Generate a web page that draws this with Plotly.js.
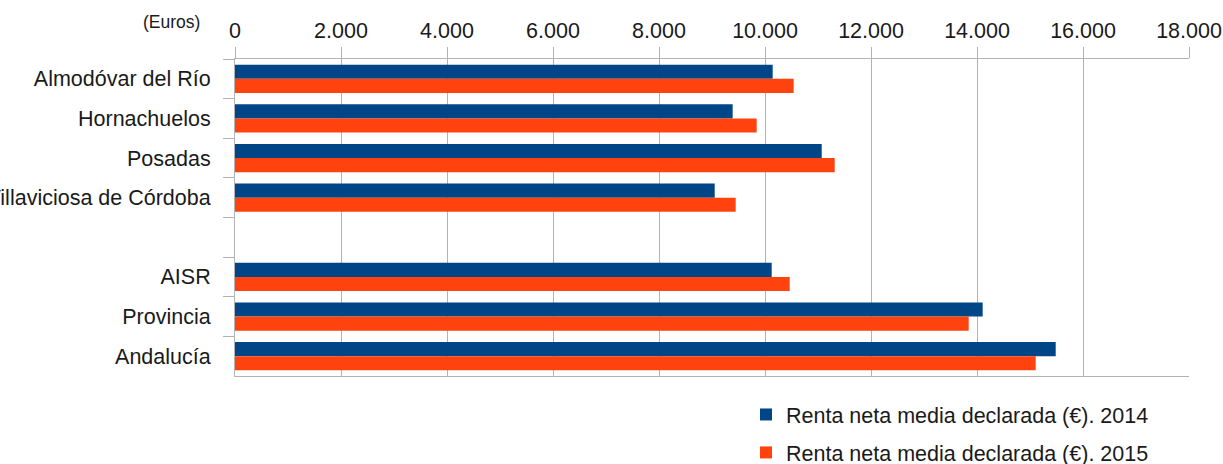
<!DOCTYPE html>
<html>
<head>
<meta charset="utf-8">
<script src="https://cdn.plot.ly/plotly-3.0.1.min.js"></script>
<style>html,body{margin:0;padding:0;background:#fff;}#chart{width:1223px;height:464px;}</style>
</head>
<body>
<div id="chart"></div>
<script>
const categories = ["Almodóvar del Río", "Hornachuelos", "Posadas", "Villaviciosa de Córdoba", " ", "AISR", "Provincia", "Andalucía"];
const renta2014 = [10145, 9390, 11070, 9051, null, 10126, 14107, 15485];
const renta2015 = [10541, 9843, 11315, 9447, null, 10466, 13843, 15107];
const seriesNames = ["Renta neta media declarada (€). 2014", "Renta neta media declarada (€). 2015"];
const xTicks = [0, 2000, 4000, 6000, 8000, 10000, 12000, 14000, 16000, 18000];

const font = "Liberation Sans, Arial, sans-serif";
const fs = 21.5;
const traces = [
  {type: "bar", orientation: "h", y: categories, x: renta2014, name: seriesNames[0],
   marker: {color: "#004586"}, legendgroup: "a", hoverinfo: "x+y"},
  {type: "bar", orientation: "h", y: categories, x: renta2015, name: seriesNames[1],
   marker: {color: "#ff420e"}, legendgroup: "b", hoverinfo: "x+y"}
];

const layout = {
  width: 1223, height: 464,
  margin: {l: 235, r: 34, t: 59, b: 88, pad: 0, autoexpand: false},
  separators: ",.",
  barmode: "group",
  bargap: 0.29,
  bargroupgap: 0,
  paper_bgcolor: "#fff",
  plot_bgcolor: "#fff",
  font: {family: font, size: fs, color: "#1a1a1a"},
  xaxis: {
    side: "top", range: [0, 18000], tickvals: xTicks, tickformat: ",d", tickangle: 0,
    showgrid: true, gridcolor: "#b3b3b3", gridwidth: 1,
    showline: true, linecolor: "#b3b3b3", linewidth: 1, mirror: true,
    ticks: "outside", ticklen: 11, tickcolor: "#b3b3b3",
    zeroline: false, fixedrange: true, automargin: false,
    tickfont: {family: font, size: fs, color: "#1a1a1a"}
  },
  yaxis: {
    type: "category", categoryorder: "array", categoryarray: categories,
    autorange: "reversed", tickson: "boundaries",
    ticks: "outside", ticklen: 11, tickcolor: "#b3b3b3", ticklabelstandoff: 19,
    showline: true, linecolor: "#b3b3b3", linewidth: 1,
    showgrid: false, zeroline: false, fixedrange: true, automargin: false,
    tickfont: {family: font, size: fs, color: "#1a1a1a"}
  },
  legend: {
    orientation: "v", traceorder: "grouped", tracegroupgap: 7,
    xref: "container", yref: "container",
    x: 746 / 1223, y: 1 - 394 / 464, xanchor: "left", yanchor: "top",
    font: {family: font, size: fs, color: "#1a1a1a"},
    bgcolor: "rgba(0,0,0,0)", itemclick: false
  },
  annotations: [{
    text: "(Euros)", xref: "paper", yref: "paper",
    x: 0, xanchor: "right", xshift: -33, y: 1 + (59 - 22) / 317, yanchor: "middle",
    showarrow: false, font: {family: font, size: 17.5, color: "#1a1a1a"}
  }],
  showlegend: true
};

Plotly.newPlot("chart", traces, layout, {displayModeBar: false, staticPlot: true});
</script>
</body>
</html>
